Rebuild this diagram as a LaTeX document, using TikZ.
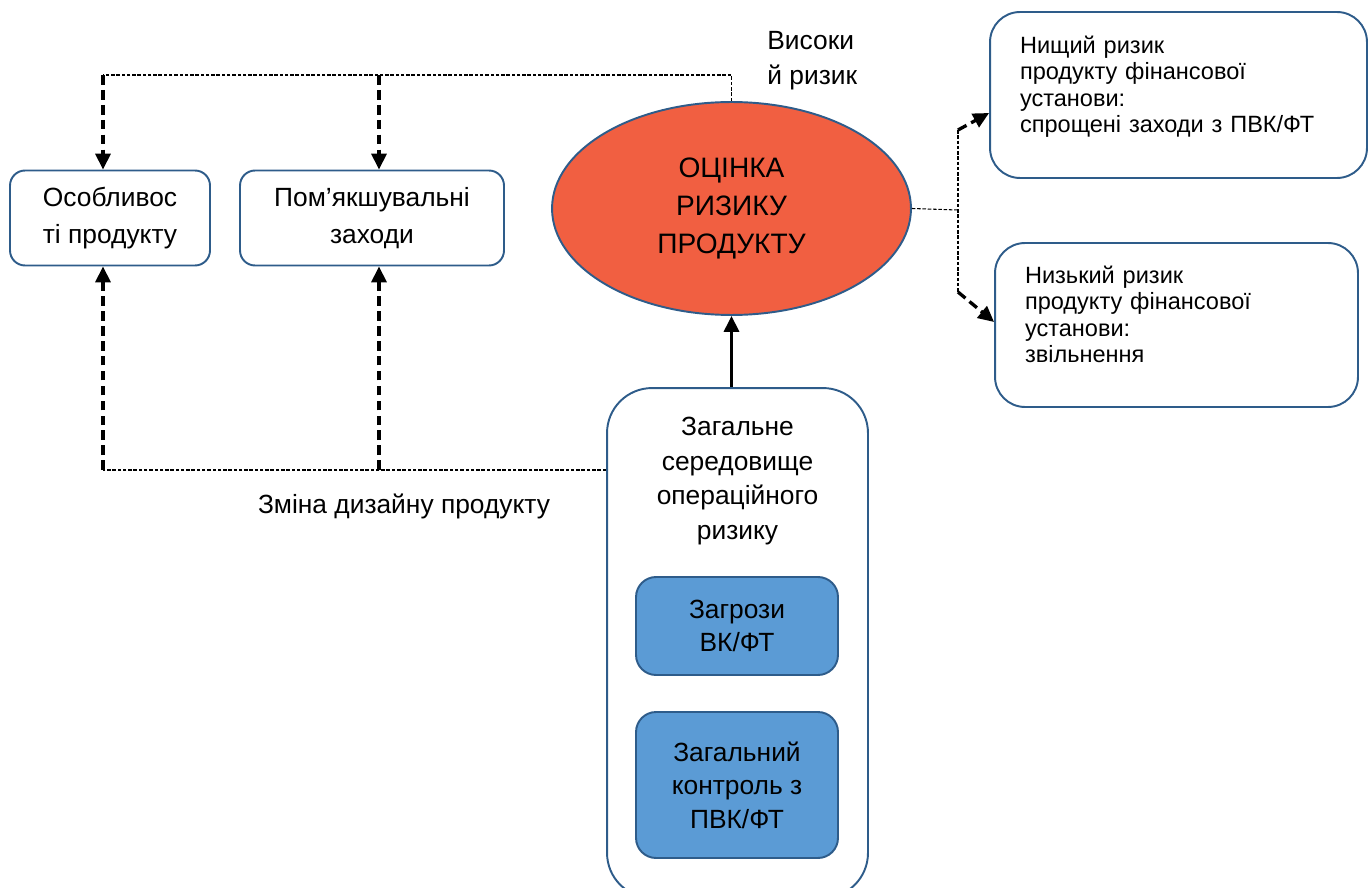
\documentclass[tikz,border=0pt]{standalone}
\usepackage{fontspec}
\setmainfont{Liberation Sans}
\usetikzlibrary{shapes.geometric,arrows.meta,positioning,calc}
\definecolor{edgeblue}{RGB}{46,92,138}
\definecolor{riskred}{RGB}{241,95,65}
\definecolor{fillblue}{RGB}{91,155,213}

\begin{document}
\begin{tikzpicture}[x=0.02cm,y=-0.02cm,
		box/.style={draw=edgeblue,line width=1.1pt,rounded corners=0.3cm,align=center,inner sep=0pt},
		inbox/.style={box,fill=fillblue,rounded corners=0.4cm,minimum width=4.04cm,font=\fontsize{15}{19}\selectfont},
		sidebox/.style={box,rounded corners=0.6cm,align=left,inner xsep=0.6cm,text height=0.35cm,text depth=2.03cm,font=\fontsize{13.4}{15.1}\selectfont},
		thinline/.style={line width=0.6pt,dash pattern=on 2pt off 1pt},
		dasharrow/.style={line width=1.9pt,dash pattern=on 5.5pt off 3pt,-{Triangle[length=9pt,width=8.5pt]}}]
		\useasboundingbox (0,0) rectangle (1368,888);
		\clip (0,0) rectangle (1368,888);
		% boxes
		\node[box,minimum width=4cm,minimum height=1.9cm,font=\fontsize{15}{21}\selectfont] (feat) at (110,218) {Особливос\\ті продукту};
		\node[box,minimum width=5.28cm,minimum height=1.9cm,font=\fontsize{15}{21}\selectfont] (mitig) at (372,218) {Пом’якшувальні\\заходи};
		\node[ellipse,draw=edgeblue,line width=1.1pt,fill=riskred,minimum width=7.18cm,minimum height=4.26cm,inner sep=0pt,align=center,font=\fontsize{16}{21.5}\selectfont] (assess) at (731.5,208.5) {ОЦІНКА\\РИЗИКУ\\ПРОДУКТУ};
		\node[anchor=north west,inner sep=0pt,align=left,font=\fontsize{15}{19.8}\selectfont] (high) at (767,31) {Високи\\й ризик};
		\node[sidebox,text width=6.34cm,minimum height=3.32cm] (lowerrisk) at (1178.5,95) {Нищий ризик\\продукту фінансової\\установи:\\спрощені заходи з ПВК/ФТ};
		\node[sidebox,text width=6.06cm,minimum height=3.28cm] (lowrisk) at (1176.5,325) {Низький ризик\\продукту фінансової\\установи:\\звільнення};
		\node[box,rounded corners=0.9cm,minimum width=5.22cm,minimum height=10.2cm] (env) at (737.5,643) {};
		\node[align=center,inner sep=0pt,font=\fontsize{15}{19.8}\selectfont] (envtitle) at (737.5,481) {Загальне\\середовище\\операційного\\ризику};
		\node[inbox,minimum height=1.96cm] (threats) at (737,626) {Загрози\\ВК/ФТ};
		\node[inbox,minimum height=2.92cm] (controls) at (737,785) {Загальний\\контроль з\\ПВК/ФТ};
		\node[font=\fontsize{15}{18}\selectfont] (redesign) at (404,506) {Зміна дизайну продукту};
		% connectors
		\coordinate (tl) at (103,75);
		\coordinate (tm) at (379,75);
		\coordinate (bl) at (103,470);
		\coordinate (bm) at (379,470);
		\coordinate (fork) at (958,210);
		\coordinate (fu) at (958,130);
		\coordinate (fd) at (958,292);
		\draw[thinline] (assess.north) -- (assess.north |- tl) -- (tl);
		\draw[dasharrow] (tl) -- (tl |- feat.north);
		\draw[dasharrow] (tm) -- (tm |- mitig.north);
		\draw[thinline] (env.west |- bl) -- (bl);
		\draw[dasharrow] (bl) -- (bl |- feat.south);
		\draw[dasharrow] (bm) -- (bm |- mitig.south);
		\draw[line width=1.8pt,-{Triangle[length=9pt,width=8.5pt]}] (assess.south |- env.north) -- (assess.south);
		\draw[thinline] (assess.east) -- (fork);
		\draw[thinline] (fu) -- (fd);
		\draw[dasharrow] (fu) -- ($(lowerrisk.west)+(0,18)$);
		\draw[dasharrow] (fd) -- ($(lowrisk.west)+(0,-3)$);
	\end{tikzpicture}
\end{document}
